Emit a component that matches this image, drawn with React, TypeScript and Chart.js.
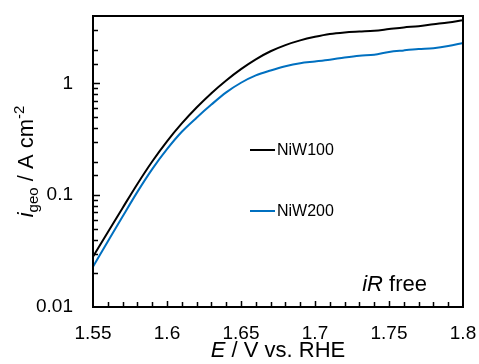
import React, { useEffect, useRef } from "react";
import { Chart, registerables } from "chart.js";

Chart.register(...registerables);

// Potential (V vs. RHE)
const potentials = [
  1.55, 1.56, 1.57, 1.58, 1.59, 1.6, 1.61, 1.62, 1.63, 1.64, 1.65, 1.66, 1.67,
  1.68, 1.69, 1.7, 1.71, 1.72, 1.73, 1.74, 1.75, 1.76, 1.77, 1.78, 1.79, 1.8,
];

// Geometric current density (A cm^-2)
const niw100 = [
  0.0282, 0.0467, 0.0769, 0.126, 0.2, 0.303, 0.438, 0.608, 0.817, 1.062, 1.34,
  1.641, 1.936, 2.198, 2.421, 2.606, 2.761, 2.851, 2.904, 2.951, 3.055, 3.162,
  3.243, 3.373, 3.5, 3.673,
];
const niw200 = [
  0.0229, 0.0385, 0.0645, 0.107, 0.171, 0.258, 0.369, 0.493, 0.646, 0.83,
  1.012, 1.177, 1.304, 1.422, 1.513, 1.567, 1.626, 1.702, 1.767, 1.805, 1.909,
  1.969, 2.023, 2.061, 2.152, 2.297,
];

const seriesNames = ["NiW100", "NiW200"];
const seriesColors = ["#000000", "#0070C0"];

const xMin = 1.55;
const xMax = 1.8;
const yMin = 0.01;
const yMax = 4;

const FONT = "'Liberation Sans', Arial, sans-serif";

const isMajorX = (v: number) => Math.abs(v * 20 - Math.round(v * 20)) < 1e-6;
const isDecade = (v: number) => {
  const l = Math.log10(v);
  return Math.abs(l - Math.round(l)) < 1e-6;
};

const fixBox = (w: number | null, h: number | null) => (s: any) => {
  if (w !== null) s.width = w;
  if (h !== null) s.height = h;
  s.paddingTop = 0;
  s.paddingBottom = 0;
  s.paddingLeft = 0;
  s.paddingRight = 0;
};

// Frame, inward tick marks, legend and rich-text titles
const decorations = {
  id: "decorations",
  afterDatasetsDraw(chart: any) {
    const { ctx, chartArea } = chart;
    const { left, right, top, bottom } = chartArea;
    const xs = chart.scales.x;
    const ys = chart.scales.y;
    ctx.save();
    ctx.strokeStyle = "#000";
    ctx.lineWidth = 1.5;
    ctx.beginPath();
    xs.ticks.forEach((t: any) => {
      const px = Math.round(xs.getPixelForValue(t.value)) + 0.5;
      if (px <= left + 1 || px >= right - 1) return;
      const len = isMajorX(t.value) ? 6 : 5;
      ctx.moveTo(px, bottom);
      ctx.lineTo(px, bottom - len);
    });
    ys.ticks.forEach((t: any) => {
      const py = Math.round(ys.getPixelForValue(t.value)) + 0.5;
      if (py >= bottom - 1 || py <= top + 1) return;
      const len = isDecade(t.value) ? 7 : 5;
      ctx.moveTo(left, py);
      ctx.lineTo(left + len, py);
    });
    ctx.stroke();

    // plot frame
    ctx.lineWidth = 2;
    ctx.strokeRect(left, top, right - left, bottom - top);

    // legend
    const legendRows = [150, 211];
    seriesNames.forEach((name, i) => {
      const y = legendRows[i];
      ctx.strokeStyle = seriesColors[i];
      ctx.lineWidth = 2;
      ctx.beginPath();
      ctx.moveTo(250, y);
      ctx.lineTo(275, y);
      ctx.stroke();
      ctx.fillStyle = "#000";
      ctx.font = `16px ${FONT}`;
      ctx.textAlign = "left";
      ctx.textBaseline = "middle";
      ctx.fillText(name, 277, y + 1);
    });

    // "iR free" annotation
    ctx.textBaseline = "alphabetic";
    ctx.textAlign = "left";
    ctx.font = `22px ${FONT}`;
    const freeW = ctx.measureText(" free").width;
    ctx.font = `italic 22px ${FONT}`;
    const iRW = ctx.measureText("iR").width;
    const annRight = 427;
    const annBase = 291;
    ctx.fillText("iR", annRight - freeW - iRW, annBase);
    ctx.font = `22px ${FONT}`;
    ctx.fillText(" free", annRight - freeW, annBase);

    const drawRich = (
      parts: { t: string; italic?: boolean; size: number; dy: number }[]
    ) => {
      let total = 0;
      parts.forEach((p) => {
        ctx.font = `${p.italic ? "italic " : ""}${p.size}px ${FONT}`;
        total += ctx.measureText(p.t).width;
      });
      let x = -total / 2;
      parts.forEach((p) => {
        ctx.font = `${p.italic ? "italic " : ""}${p.size}px ${FONT}`;
        ctx.fillText(p.t, x, p.dy);
        x += ctx.measureText(p.t).width;
      });
    };

    // x-axis title
    ctx.save();
    ctx.translate((left + right) / 2, 357);
    drawRich([
      { t: "E", italic: true, size: 22, dy: 0 },
      { t: " / V vs. RHE", size: 22, dy: 0 },
    ]);
    ctx.restore();

    // y-axis title
    ctx.save();
    ctx.translate(33, (top + bottom) / 2);
    ctx.rotate(-Math.PI / 2);
    drawRich([
      { t: "i", italic: true, size: 22, dy: 0 },
      { t: "geo", size: 15, dy: 5 },
      { t: " / A cm", size: 22, dy: 0 },
      { t: "-2", size: 15, dy: -9 },
    ]);
    ctx.restore();

    ctx.restore();
  },
};

export default function App() {
  const canvasRef = useRef<HTMLCanvasElement | null>(null);

  useEffect(() => {
    const canvas = canvasRef.current;
    if (!canvas) return;
    const chart = new Chart(canvas, {
      type: "line",
      data: {
        labels: potentials,
        datasets: [
          {
            label: seriesNames[0],
            data: potentials.map((x, i) => ({ x, y: niw100[i] })),
            borderColor: seriesColors[0],
            borderWidth: 2,
            pointRadius: 0,
            cubicInterpolationMode: "monotone",
          },
          {
            label: seriesNames[1],
            data: potentials.map((x, i) => ({ x, y: niw200[i] })),
            borderColor: seriesColors[1],
            borderWidth: 2,
            pointRadius: 0,
            cubicInterpolationMode: "monotone",
          },
        ],
      },
      options: {
        animation: false,
        responsive: false,
        devicePixelRatio: 1,
        layout: { padding: { top: 16, right: 16, left: 0, bottom: 0 } },
        plugins: {
          legend: { display: false },
          tooltip: { enabled: false },
        },
        scales: {
          x: {
            type: "linear",
            min: xMin,
            max: xMax,
            grid: { display: false, drawTicks: false },
            border: { display: false },
            afterFit: fixBox(null, 57),
            ticks: {
              stepSize: 0.01,
              autoSkip: false,
              maxRotation: 0,
              padding: 15,
              color: "#000",
              font: { family: FONT, size: 19 },
              callback: (v: any) =>
                isMajorX(Number(v)) ? String(Number(Number(v).toFixed(2))) : "",
            },
          },
          y: {
            type: "logarithmic",
            min: yMin,
            max: yMax,
            grid: { display: false, drawTicks: false },
            border: { display: false },
            afterFit: fixBox(93, null),
            ticks: {
              autoSkip: false,
              padding: 20,
              color: "#000",
              font: { family: FONT, size: 19 },
              callback: (v: any) =>
                isDecade(Number(v)) ? String(Number(Number(v).toPrecision(1))) : "",
            },
          },
        },
      },
      plugins: [decorations],
    });
    return () => chart.destroy();
  }, []);

  return (
    <div
      style={{
        position: "fixed",
        left: 0,
        top: 0,
        width: 479,
        height: 364,
        background: "#fff",
      }}
    >
      <canvas
        ref={canvasRef}
        width={479}
        height={364}
        style={{ display: "block", width: 479, height: 364 }}
      />
    </div>
  );
}
